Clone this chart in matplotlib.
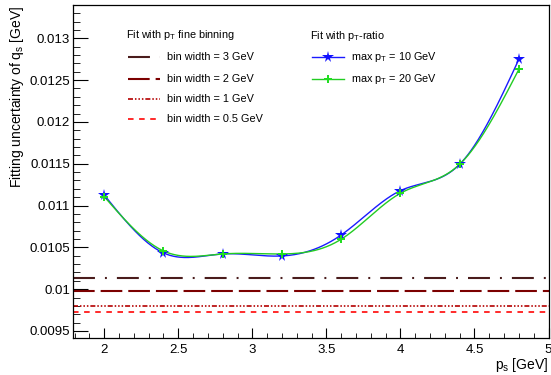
import numpy as np
import matplotlib
matplotlib.use("Agg")
import matplotlib.pyplot as plt
from matplotlib.lines import Line2D
from matplotlib.ticker import MultipleLocator, FuncFormatter

plt.rcParams['font.family'] = ['Liberation Sans', 'DejaVu Sans']
plt.rcParams['mathtext.fontset'] = 'custom'
plt.rcParams['mathtext.rm'] = 'Liberation Sans'
plt.rcParams['mathtext.it'] = 'Liberation Sans'
plt.rcParams['lines.scale_dashes'] = False

# ---- data ----
ps = [2.0, 2.4, 2.8, 3.2, 3.6, 4.0, 4.4, 4.8]
unc_max10 = [0.011126, 0.010433, 0.010421, 0.010397, 0.010648, 0.011178, 0.011493, 0.012749]
unc_max20 = [0.011106, 0.010457, 0.010421, 0.010421, 0.010597, 0.011147, 0.011493, 0.012629]
bin_labels = ['bin width = 3 GeV', 'bin width = 2 GeV', 'bin width = 1 GeV', 'bin width = 0.5 GeV']
bin_values = [0.010130, 0.009982, 0.009799, 0.009724]
ratio_labels = ['max p$_{\\mathrm{T}}$ = 10 GeV', 'max p$_{\\mathrm{T}}$ = 20 GeV']

bin_colors = ['#4a1c1c', '#7c0000', '#b40000', '#ff2a2a']
bin_lw = [1.5, 1.5, 1.2, 1.4]
bin_dashes = [(15.8, 7.2, 1.4, 7.2), (15.6, 4.3),
              (3.6, 1.4, 1.1, 1.4, 1.1, 1.4, 1.1, 1.4), (4.0, 4.0)]


def natural_spline(x, y, n=400):
    x = np.asarray(x, float); y = np.asarray(y, float)
    m = len(x); h = np.diff(x)
    A = np.zeros((m, m)); b = np.zeros(m)
    A[0, 0] = A[-1, -1] = 1
    for i in range(1, m - 1):
        A[i, i - 1] = h[i - 1]; A[i, i] = 2 * (h[i - 1] + h[i]); A[i, i + 1] = h[i]
        b[i] = 6 * ((y[i + 1] - y[i]) / h[i] - (y[i] - y[i - 1]) / h[i - 1])
    M = np.linalg.solve(A, b)
    xs = np.linspace(x[0], x[-1], n)
    idx = np.clip(np.searchsorted(x, xs) - 1, 0, m - 2)
    x0, x1 = x[idx], x[idx + 1]; hh = x1 - x0
    ys = (M[idx] * (x1 - xs) ** 3 / (6 * hh) + M[idx + 1] * (xs - x0) ** 3 / (6 * hh)
          + (y[idx] / hh - M[idx] * hh / 6) * (x1 - xs)
          + (y[idx + 1] / hh - M[idx + 1] * hh / 6) * (xs - x0))
    return xs, ys


W, H = 551, 375
fig = plt.figure(figsize=(W / 100, H / 100), dpi=100)
L, R, T, B = 72.7, 548.5, 5, 338
ax = fig.add_axes([L / W, 1 - B / H, (R - L) / W, (B - T) / H])
xlim = (1.787, 5.0)
ax.set_xlim(*xlim)
ax.set_ylim(0.009416, 0.013398)

for v, c, lw, d in zip(bin_values, bin_colors, bin_lw, bin_dashes):
    ax.plot(list(xlim), [v, v], color=c, lw=lw, dashes=d)

blue, green = '#1010ff', '#22dd22'
xs, ys = natural_spline(ps, unc_max10)
ax.plot(xs, ys, color='#1a1aff', lw=1.0)
xs, ys = natural_spline(ps, unc_max20)
ax.plot(xs, ys, color='#22cc22', lw=1.0)
ax.plot(ps, unc_max10, ls='none', marker='*', ms=8.5, color=blue, mew=0)
ax.plot(ps, unc_max20, ls='none', marker='P', ms=5.2, color=green, mew=0)

ax.xaxis.set_major_locator(MultipleLocator(0.5))
ax.xaxis.set_minor_locator(MultipleLocator(0.1))
ax.yaxis.set_major_locator(MultipleLocator(0.0005))
ax.yaxis.set_minor_locator(MultipleLocator(0.0001))
fmt = FuncFormatter(lambda v, p: '%g' % round(v, 6))
ax.xaxis.set_major_formatter(fmt)
ax.yaxis.set_major_formatter(fmt)
ax.tick_params(axis='both', which='both', direction='in', labelsize=9.5,
               top=False, right=False)
ax.tick_params(axis='x', which='major', length=7.2, pad=4)
ax.tick_params(axis='x', which='minor', length=3.6)
ax.tick_params(axis='y', which='major', length=10.5, pad=2)
ax.tick_params(axis='y', which='minor', length=5.2)
for s in ax.spines.values():
    s.set_linewidth(0.9)

fig.text(R / W, 1 - 365 / H, 'p$_{\\mathrm{s}}$ [GeV]', ha='right', va='center', fontsize=10)
fig.text(17 / W, 1 - 6 / H, 'Fitting uncertainty of q$_{\\mathrm{s}}$ [GeV]', rotation=90,
         ha='center', va='top', fontsize=10)

# legends
def fx(x): return x / W
def fy(y): return 1 - y / H

fs = 7.8
fig.text(fx(126), fy(35), 'Fit with p$_{\\mathrm{T}}$ fine binning', ha='left', va='center', fontsize=fs)
for yy, lab, c, lw, d in zip([57.3, 79.3, 99.3, 119.3], bin_labels, bin_colors, bin_lw, bin_dashes):
    fig.add_artist(Line2D([fx(128), fx(160)], [fy(yy), fy(yy)], color=c, lw=lw, dashes=d,
                          transform=fig.transFigure))
    fig.text(fx(167), fy(yy), lab, ha='left', va='center', fontsize=fs)

fig.text(fx(310), fy(36), 'Fit with p$_{\\mathrm{T}}$-ratio', ha='left', va='center', fontsize=fs)
for yy, lab, lc, mc, mk, ms in zip([56.7, 79.3], ratio_labels, ['#1a1aff', '#22cc22'],
                                   [blue, green], ['*', 'P'], [8.5, 5.2]):
    fig.add_artist(Line2D([fx(312), fx(344)], [fy(yy), fy(yy)], color=lc, lw=1.0,
                          transform=fig.transFigure))
    fig.add_artist(Line2D([fx(328)], [fy(yy)], color=mc, marker=mk, ms=ms, mew=0, ls='none',
                          transform=fig.transFigure))
    fig.text(fx(351), fy(yy), lab, ha='left', va='center', fontsize=fs)

fig.savefig('out.png', dpi=100)
